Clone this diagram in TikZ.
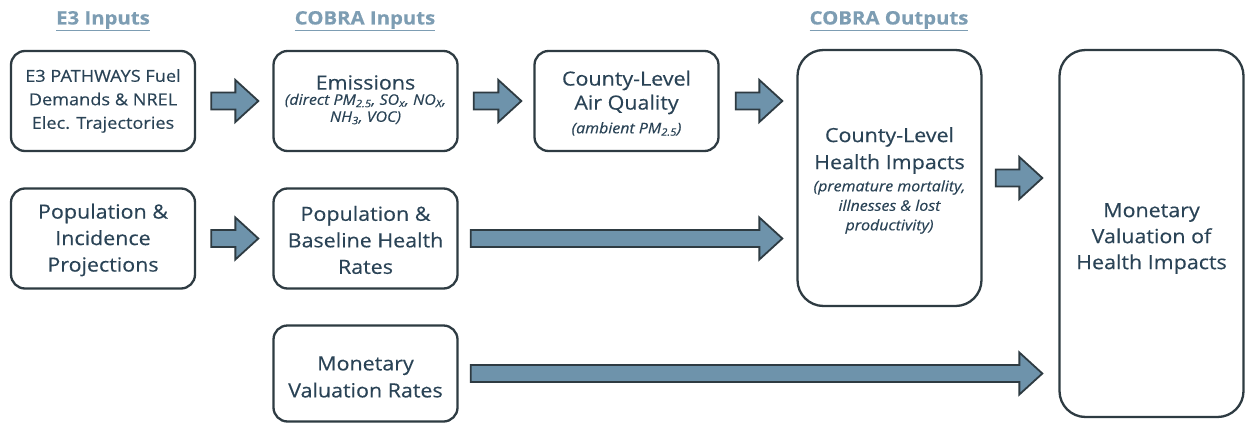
\documentclass[tikz,border=0pt]{standalone}
\usepackage{fontspec}
\setmainfont{Open Sans}[FakeStretch=1.1, FakeBold=0.3]
\usetikzlibrary{calc}
\definecolor{txt}{HTML}{2A4356}
\definecolor{head}{HTML}{7D9DB3}
\definecolor{bord}{HTML}{2E3B42}
\definecolor{afill}{HTML}{6E93AB}
\newcommand\blockarrow[4]{%
  \draw[barrow] let \p1=($(#1.east)+(#3,0)$), \p2=($(#2.west)-(#4,0)$) in
    (\x1,\y1+8.5) -- (\x2-23,\y1+8.5) -- (\x2-23,\y1+21) -- (\x2,\y1)
    -- (\x2-23,\y1-21) -- (\x2-23,\y1-8.5) -- (\x1,\y1-8.5) -- cycle;}
\begin{document}
\begin{tikzpicture}[x=1pt,y=1pt,
  box/.style={draw=bord, line width=2.3pt, rounded corners=14pt, fill=white,
    text=txt, align=center, inner sep=0pt,
    font=\fontsize{19.5}{26}\selectfont},
  bigbox/.style={box, rounded corners=26pt},
  main/.style={text=txt, align=center, inner sep=0pt, font=\fontsize{19.5}{24}\selectfont},
  sub/.style={text=txt, align=center, inner sep=0pt, font=\itshape\fontsize{14.5}{17}\selectfont},
  heading/.style={text=head, inner sep=0pt, font=\bfseries\fontsize{18.5}{22}\selectfont},
  barrow/.style={draw=bord, line width=1.8pt, fill=afill, line join=miter}]
\useasboundingbox (0,0) rectangle (1246,-423);
\fill[white] (0,0) rectangle (1246,-423);
% headings
\node[heading] (h1) at (103,-21) {\underline{E3 Inputs}};
\node[heading] (h2) at (365,-21) {\underline{COBRA Inputs}};
\node[heading] (h3) at (889,-21) {\underline{COBRA Outputs}};
% boxes
\node[box, minimum width=184, minimum height=100, font=\fontsize{16.5}{23.5}\selectfont] (b1) at (103,-101)
  {E3 PATHWAYS Fuel\\Demands \& NREL\\Elec. Trajectories};
\node[box, minimum width=184, minimum height=100] (b2) at (365.5,-101) {};
\node[main] (b2t) at (365.5,-82.5) {Emissions};
\node[sub] (b2s) at (365.5,-109) {(direct PM\textsubscript{2.5}, SO\textsubscript{x}, NO\textsubscript{X},\\NH\textsubscript{3}, VOC)};
\node[box, minimum width=184, minimum height=100] (b3) at (626.5,-101) {};
\node[main] (b3t) at (626.5,-92.5) {County-Level\\Air Quality};
\node[sub] (b3s) at (626.5,-129) {(ambient PM\textsubscript{2.5})};
\node[bigbox, minimum width=184, minimum height=256] (b4) at (889.5,-178) {};
\node[main, font=\fontsize{19.5}{27}\selectfont] (b4t) at (889.5,-150.5) {County-Level\\Health Impacts};
\node[sub, font=\itshape\fontsize{14.5}{19.5}\selectfont] (b4s) at (889.5,-207) {(premature mortality,\\illnesses \& lost\\productivity)};
\node[bigbox, minimum width=184, minimum height=367] (b5) at (1151.5,-233.5) {};
\node[main, font=\fontsize{19.5}{26}\selectfont] (b5t) at (1151.5,-238.5)
  {Monetary\\Valuation of\\Health Impacts};
\node[box, minimum width=184, minimum height=100] (b6) at (103,-238.5) {};
\node[main, font=\fontsize{19.5}{26.5}\selectfont] (b6t) at (103,-240)
  {Population \&\\Incidence\\Projections};
\node[box, minimum width=184, minimum height=100] (b7) at (365.5,-238.5) {};
\node[main, font=\fontsize{19.5}{26.5}\selectfont] (b7t) at (365.5,-240)
  {Population \&\\Baseline Health\\Rates};
\node[box, minimum width=184, minimum height=96] (b8) at (365.5,-373.5) {};
\node[main, font=\fontsize{19.5}{27}\selectfont] (b8t) at (365.5,-377)
  {Monetary\\Valuation Rates};
% arrows
\blockarrow{b1}{b2}{15}{14}
\blockarrow{b2}{b3}{15}{12}
\blockarrow{b3}{b4}{16}{14}
\blockarrow{b4}{b5}{13}{16}
\blockarrow{b6}{b7}{15}{14}
\blockarrow{b7}{b4}{12}{14}
\blockarrow{b8}{b5}{12}{16}
\end{tikzpicture}
\end{document}
